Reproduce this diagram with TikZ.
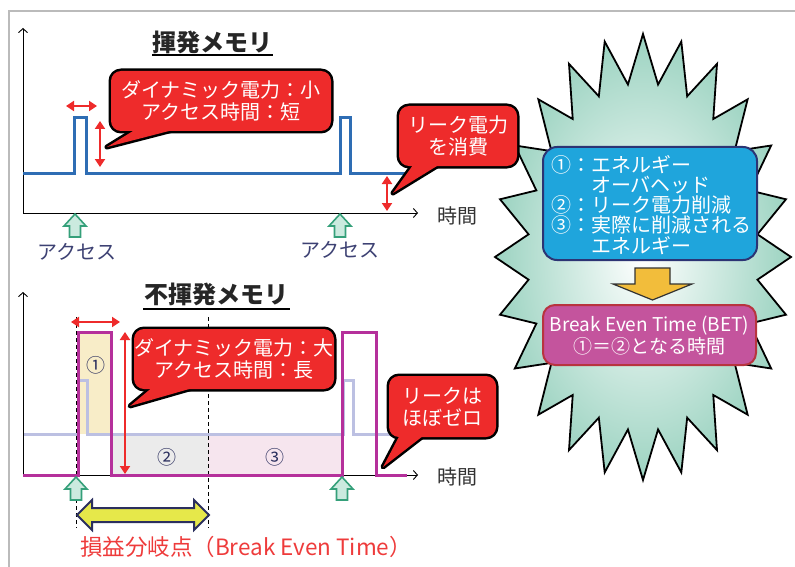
\documentclass[tikz,border=0pt]{standalone}
\usepackage{fontspec}
\setmainfont{Noto Sans CJK JP}
\usetikzlibrary{arrows.meta}
\definecolor{cred}{HTML}{EE2B2B}
\definecolor{lblue}{HTML}{2E6DB4}
\definecolor{mag}{HTML}{B5309B}
\definecolor{lav}{HTML}{BCC0E2}
\definecolor{agreen}{HTML}{35A07A}
\definecolor{afill}{HTML}{CBEADF}
\definecolor{navy}{HTML}{2C3474}
\definecolor{txtnavy}{HTML}{3D4173}
\definecolor{rone}{HTML}{F8EDC8}
\definecolor{rtwo}{HTML}{EBEBEB}
\definecolor{rthree}{HTML}{F6E5EE}
\definecolor{burst}{HTML}{9CD3C1}
\definecolor{bboxc}{HTML}{1FA5DC}
\definecolor{mboxc}{HTML}{C4549D}
\definecolor{mboxb}{HTML}{B8343F}
\definecolor{orng}{HTML}{F2BD3B}
\definecolor{yel}{HTML}{E6E84A}
\definecolor{framec}{HTML}{BBBBBB}
\definecolor{numc}{HTML}{2B2F5E}
\definecolor{timec}{HTML}{333333}
\definecolor{betred}{HTML}{EE3B3B}

\newcommand\mycallout[7]{%
  \draw[line width=5,line join=round,rounded corners=10] (#1,#2) rectangle (#3,#4);
  \draw[line width=5,line join=round] (#5,#4-8) -- #7 -- (#6,#4-8) -- cycle;
  \fill[cred,rounded corners=10] (#1,#2) rectangle (#3,#4);
  \fill[cred] (#5,#4-8) -- #7 -- (#6,#4-8) -- cycle;
}

\tikzset{
  axisline/.style={line width=0.9, -{Straight Barb[length=4,width=9]}},
  rarrow/.style={cred, line width=2.6, {Triangle[width=10,length=8]}-{Triangle[width=10,length=8]}},
  ctext/.style={text=white, font=\fontsize{20}{22}\selectfont, align=center, inner sep=0},
  titletext/.style={text=black!85, font=\fontsize{24}{26}\selectfont\bfseries, inner sep=0},
  acctext/.style={text=txtnavy, font=\fontsize{20}{22}\selectfont, inner sep=0},
  timetext/.style={text=timec, font=\fontsize{20}{22}\selectfont, inner sep=0},
  numtext/.style={text=numc, font=\fontsize{19}{20}\selectfont, inner sep=0},
  greenup/.pic={\filldraw[draw=agreen, fill=afill, line width=1.6, line join=miter]
     (0,0) -- (11,12) -- (5.5,12) -- (5.5,23) -- (-5.5,23) -- (-5.5,12) -- (-11,12) -- cycle;},
  wave/.style={line width=3, line join=miter},
}

\begin{document}
\begin{tikzpicture}[x=1pt,y=-1pt]
\useasboundingbox (0,0) rectangle (795,567);
% frame
\draw[framec, line width=1.5] (9,567) -- (9,11) -- (795,11);

% ===== starburst (right) =====
\shadedraw[draw=black, line width=1.8, line join=miter, inner color=white, outer color=burst]
  (791,257) \foreach \i in {1,...,47}{
    -- ({643+(1-0.22*mod(\i,2))*148*cos(\i*7.5)},{257+(1-0.22*mod(\i,2))*223*sin(\i*7.5)}) } -- cycle;

% blue box
\filldraw[fill=bboxc, draw=navy, line width=2, rounded corners=14] (543,147) rectangle (757,260);
\node[text=white, font=\fontsize{20}{20.2}\selectfont, align=left, inner sep=0] (legend) at (651,205)
 {①：エネルギー\\\phantom{①：}オーバヘッド\\②：リーク電力削減\\③：実際に削減される\\\phantom{①：}エネルギー};
% orange arrow
\filldraw[fill=orng, draw=black!80, line width=1.2] (635,268) -- (670,268) -- (670,284) -- (692,284) -- (652.5,300) -- (613,284) -- (635,284) -- cycle;
% magenta box
\filldraw[fill=mboxc, draw=mboxb, line width=2, rounded corners=12] (543,305) rectangle (756,365);
\node[text=white, font=\fontsize{19}{22}\selectfont, align=center, inner sep=0] (bet) at (649.5,336)
 {Break Even Time (BET)\\①＝②となる時間};

% ===== top chart =====
\node[titletext] (t1) at (212,42) {揮発メモリ};
\draw[line width=1.8] (152,55) -- (273,55);
\draw[axisline] (23,213) -- (23,28);
\draw[axisline] (23,213) -- (418,213);
\draw[wave, lblue] (23,173) -- (74,173) -- (74,118) -- (86,118) -- (86,173) -- (340,173) -- (340,118) -- (350,118) -- (350,173) -- (406,173);
\draw[rarrow] (66,106) -- (97,106);
\draw[rarrow] (100,121) -- (100,167);
\draw[rarrow] (387,176) -- (387,211);
\pic at (75,214) {greenup};
\pic at (340,214) {greenup};
\node[acctext] (acc1) at (77,252) {アクセス};
\node[acctext] (acc2) at (340,250) {アクセス};
\node[timetext] (time1) at (457,216) {時間};

\mycallout{111}{71}{331}{131}{146}{200}{(107,147)}
\node[ctext] (c1) at (221,101) {ダイナミック電力：小\\アクセス時間：短};
\mycallout{399}{106}{517}{166}{418}{450}{(393,193)}
\node[ctext] (c2) at (458,136) {リーク電力\\を消費};

% ===== bottom chart =====
\fill[rone] (78,332) rectangle (111,434);
\fill[rtwo] (111,434) rectangle (208,475);
\fill[rthree] (208,434) rectangle (341,475);
\draw[wave, lav] (23,434) -- (78,434) -- (78,380) -- (87,380) -- (87,434) -- (343,434) -- (343,380) -- (353,380) -- (353,434) -- (392,434);
\node[titletext] (t2) at (216.5,294) {不揮発メモリ};
\draw[line width=1.8] (143,309) -- (290,309);
\draw[axisline] (23,475) -- (23,292);
\draw[axisline] (23,475) -- (418,475);
\draw[line width=0.9, dash pattern=on 4pt off 3pt] (76,317) -- (76,528);
\draw[line width=0.9, dash pattern=on 4pt off 3pt] (208,317) -- (208,528);
\draw[wave, mag] (23,475) -- (78,475) -- (78,332) -- (111,332) -- (111,475) -- (342,475) -- (342,332) -- (376,332) -- (376,475) -- (407,475);
\node[numtext] (n1) at (96,365) {①};
\node[numtext] (n2) at (167,457) {②};
\node[numtext] (n3) at (275,457) {③};
\draw[rarrow] (71,322) -- (120,322);
\draw[rarrow] (125,332) -- (125,474);
\pic at (76,477) {greenup};
\pic at (342,477) {greenup};
\filldraw[fill=yel, draw=numc, line width=2, line join=miter]
  (77,515) -- (92,500) -- (92,508) -- (194,508) -- (194,500) -- (209,515) -- (194,530) -- (194,522) -- (92,522) -- (92,530) -- cycle;
\node[text=betred, font=\fontsize{22.5}{24}\selectfont, inner sep=0] (betlabel) at (246,547) {損益分岐点（Break Even Time）};
\node[timetext] (time2) at (457,477) {時間};

\mycallout{134}{329}{334}{389}{160}{217}{(130,406)}
\node[ctext] (c3) at (234,359) {ダイナミック電力：大\\アクセス時間：長};
\mycallout{389}{376}{496}{437}{403}{432}{(383,467)}
\node[ctext] (c4) at (442.5,406.5) {リークは\\ほぼゼロ};
\end{tikzpicture}
\end{document}
